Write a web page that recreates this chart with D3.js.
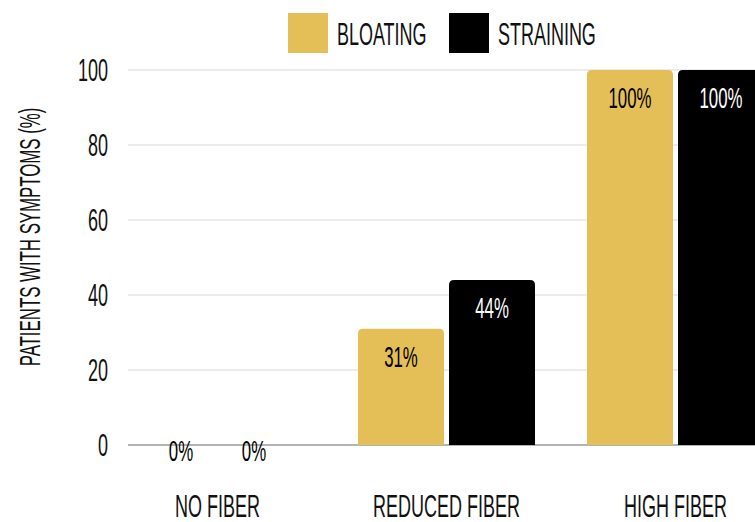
<!DOCTYPE html>
<html><head><meta charset="utf-8">
<script src="https://cdn.jsdelivr.net/npm/d3@7"></script>
<style>
html,body{margin:0;padding:0;background:#fff;}
svg text{font-family:"Liberation Sans",Arial,sans-serif;}
</style></head>
<body><svg id="c" width="755" height="522"></svg>
<script>
const categories = ["NO FIBER", "REDUCED FIBER", "HIGH FIBER"];
const seriesNames = ["BLOATING", "STRAINING"];
const bloating = [0, 31, 100];
const straining = [0, 44, 100];
const yTicks = [0, 20, 40, 60, 80, 100];
const colors = ["#e4be57", "#000000"];
const labelColors = ["#000000", "#ffffff"];
const yTitle = "PATIENTS WITH SYMPTOMS (%)";

const values = [bloating, straining];
const svg = d3.select("#c");
const SX = 0.58;

const y = d3.scaleLinear().domain([0, 100]).range([445, 70]);
const x = d3.scaleBand().domain(categories).range([103, 790]).paddingInner(0.227).paddingOuter(0.1135);
const xs = d3.scaleBand().domain(seriesNames).range([0, x.bandwidth()]).paddingInner(0.055);

function ctext(g, txt, px, py, size, anchor, fill, rot) {
  const t = g.append("g").attr("transform", `translate(${px},${py})` + (rot ? ` rotate(${rot})` : "") + ` scale(${SX},1)`);
  return t.append("text").text(txt).attr("font-size", size).attr("text-anchor", anchor)
    .attr("dominant-baseline", "central").attr("fill", fill);
}

// gridlines
const grid = svg.append("g");
yTicks.forEach(t => {
  grid.append("line").attr("x1", 128).attr("x2", 755).attr("y1", y(t)).attr("y2", y(t))
    .attr("stroke", t === 0 ? "#9a9a9a" : "#e4e4e4").attr("stroke-width", t === 0 ? 1.5 : 1.3);
});
// y tick labels
const yl = svg.append("g");
yTicks.forEach(t => ctext(yl, String(t), 108, y(t), 31, "end", "#111"));
// y title
ctext(svg, yTitle, 30, 237, 29, "middle", "#111", -90);

// bars
function barPath(x0, w, top, bot, r) {
  const h = bot - top;
  if (h <= 0) return "";
  r = Math.min(r, h, w / 2);
  return `M${x0},${bot}V${top + r}Q${x0},${top} ${x0 + r},${top}H${x0 + w - r}Q${x0 + w},${top} ${x0 + w},${top + r}V${bot}Z`;
}
const bars = svg.append("g");
categories.forEach((c, i) => {
  seriesNames.forEach((s, j) => {
    const v = values[j][i];
    const bx = x(c) + xs(s);
    bars.append("path").attr("d", barPath(bx, xs.bandwidth(), y(v), y(0), 5)).attr("fill", colors[j]);
  });
});
const labels = svg.append("g");
categories.forEach((c, i) => {
  seriesNames.forEach((s, j) => {
    const v = values[j][i];
    let cx = x(c) + xs(s) + xs.bandwidth() / 2;
    if (v === 0) cx += (j === 0 ? 9 : -9);
    const cy = v === 0 ? y(0) + 6 : y(v) + 28;
    const fill = v === 0 ? "#000" : labelColors[j];
    ctext(labels, v + "%", cx, cy, 29, "middle", fill);
  });
});
// x labels
const xl = svg.append("g");
categories.forEach(c => ctext(xl, c, x(c) + x.bandwidth() / 2, 506, 31, "middle", "#111"));

// legend
const leg = svg.append("g");
const legX = [288, 449];
seriesNames.forEach((s, j) => {
  leg.append("rect").attr("x", legX[j]).attr("y", 13).attr("width", 40).attr("height", 40).attr("fill", colors[j]);
  ctext(leg, s, legX[j] + 49, 34, 31, "start", "#111");
});
</script></body></html>
